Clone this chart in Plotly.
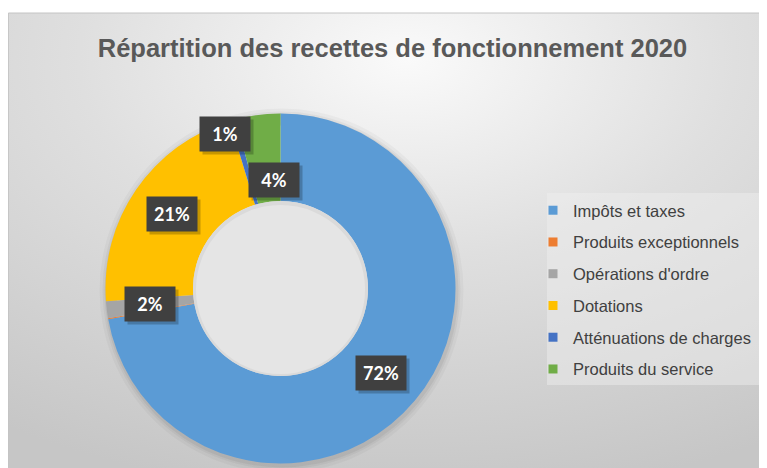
import math, base64
import plotly.graph_objects as go

# ---- data ----
categories = ["Impôts et taxes", "Produits exceptionnels", "Opérations d'ordre",
              "Dotations", "Atténuations de charges", "Produits du service"]
values = [72.3, 0.1, 1.55, 21.5, 0.6, 4.1]
colors = ["#5B9BD5", "#ED7D31", "#A5A5A5", "#FFC000", "#4472C4", "#70AD47"]
show_label = [True, False, True, True, True, True]
title_text = "Répartition des recettes de fonctionnement 2020"

# ---- geometry / style ----
W, H = 767, 468
OFF = 8  # page margin of the html body


def px(sx):
    return (sx - OFF) / W


def py(sy):
    return 1 - (sy - OFF) / H


CX, CY, R = 280.5, 288.5, 175.0  # screen pixels
HOLE = 0.5
label_rfrac = [0.75, 0.75, 0.75, 0.75, 0.94, 0.62]
label_dang = [0, 0, 0, 0, -4, 4]


def dom(cx, cy, r):
    return dict(x=[px(cx - r), px(cx + r)], y=[py(cy + r), py(cy - r)])


fig = go.Figure()

svg = ('<svg xmlns="http://www.w3.org/2000/svg" width="767" height="463" viewBox="0 0 767 463" '
       'preserveAspectRatio="none"><defs><radialGradient id="g" cx="0.52" cy="0.10" r="0.95">'
       '<stop offset="0" stop-color="#FAFAFA"/><stop offset="0.45" stop-color="#DFDFDF"/>'
       '<stop offset="1" stop-color="#C6C6C6"/></radialGradient></defs>'
       '<rect x="0" y="0" width="767" height="463" fill="url(#g)"/></svg>')
src = "data:image/svg+xml;base64," + base64.b64encode(svg.encode()).decode()

# soft outer shadow of the ring
for grow, alpha in [(7, 0.03), (4, 0.04), (2, 0.05)]:
    rr = R + grow
    fig.add_trace(go.Pie(values=[1], labels=["s"], marker=dict(colors=[f"rgba(0,0,0,{alpha})"],
                         line=dict(width=0)), hole=(R - 10) / rr, sort=False,
                         textinfo="none", hoverinfo="skip", showlegend=False,
                         domain=dom(CX + 1, CY + 2, rr)))

fig.add_trace(go.Pie(
    labels=categories, values=values, marker=dict(colors=colors, line=dict(width=0)),
    hole=HOLE, sort=False, direction="clockwise", rotation=0,
    textinfo="none", showlegend=False, domain=dom(CX, CY, R),
))

# hole face with a faint rim
RI = R * HOLE
fig.add_trace(go.Pie(values=[1], labels=["h"], marker=dict(colors=["#DADADA"], line=dict(width=0)),
                     sort=False, textinfo="none", hoverinfo="skip", showlegend=False,
                     domain=dom(CX, CY, RI)))
fig.add_trace(go.Pie(values=[1], labels=["h2"], marker=dict(colors=["#E5E5E5"], line=dict(width=0)),
                     sort=False, textinfo="none", hoverinfo="skip", showlegend=False,
                     domain=dom(CX, CY + 1, RI - 3)))

for cat, col in zip(categories, colors):
    fig.add_trace(go.Scatter(x=[None], y=[None], mode="markers", name=cat,
                             legendgroup=cat,
                             marker=dict(symbol="square", size=9, color=col)))

total = sum(values)
cum = 0.0
annotations = []
for i, v in enumerate(values):
    frac = v / total
    mid = cum + frac / 2
    cum += frac
    if not show_label[i]:
        continue
    ang = math.radians(mid * 360 + label_dang[i])
    r = R * label_rfrac[i]
    sx = CX + r * math.sin(ang)
    sy = CY - r * math.cos(ang)
    txt = f"{int(frac * 100 + 0.5)}%"
    common = dict(x=px(sx), y=py(sy), xref="paper", yref="paper", showarrow=False,
                  xanchor="center", yanchor="middle",
                  width=38, height=22, borderpad=6)
    annotations.append(dict(text=" ", bgcolor="rgba(0,0,0,0.22)", xshift=3, yshift=-3,
                            font=dict(family="Lato", size=18, color="rgba(0,0,0,0)"), **common))
    annotations.append(dict(text=f"<b>{txt}</b>", bgcolor="#404040",
                            font=dict(family="Lato", size=18, color="#FFFFFF"), **common))

fig.update_layout(
    width=W, height=H, margin=dict(l=0, r=0, t=0, b=0),
    paper_bgcolor="#FFFFFF", plot_bgcolor="rgba(0,0,0,0)",
    xaxis=dict(visible=False), yaxis=dict(visible=False),
    images=[dict(source=src, xref="paper", yref="paper", x=0, y=py(13),
                 sizex=1, sizey=py(13), sizing="stretch",
                 xanchor="left", yanchor="top", layer="below")],
    shapes=[
        dict(type="rect", xref="paper", yref="paper", x0=0.0005, x1=1, y0=0, y1=py(13),
             line=dict(color="#C4C4C4", width=1), fillcolor="rgba(0,0,0,0)", layer="below"),
        dict(type="rect", xref="paper", yref="paper", x0=px(547), x1=px(765),
             y0=py(385), y1=py(193), line=dict(width=0),
             fillcolor="rgba(240,240,240,0.45)", layer="below"),
    ],
    title=dict(text=f"<b>{title_text}</b>", x=px(392.5), xanchor="center", y=py(48),
               yanchor="middle", xref="paper", yref="container",
               font=dict(family="Liberation Sans", size=25.5, color="#595959")),
    legend=dict(x=px(533), y=py(193), xanchor="left", yanchor="top",
                bgcolor="rgba(0,0,0,0)", tracegroupgap=7.3,
                font=dict(family="Liberation Sans", size=16.5, color="#404040")),
    annotations=annotations,
)

fig.write_html("out.html")
